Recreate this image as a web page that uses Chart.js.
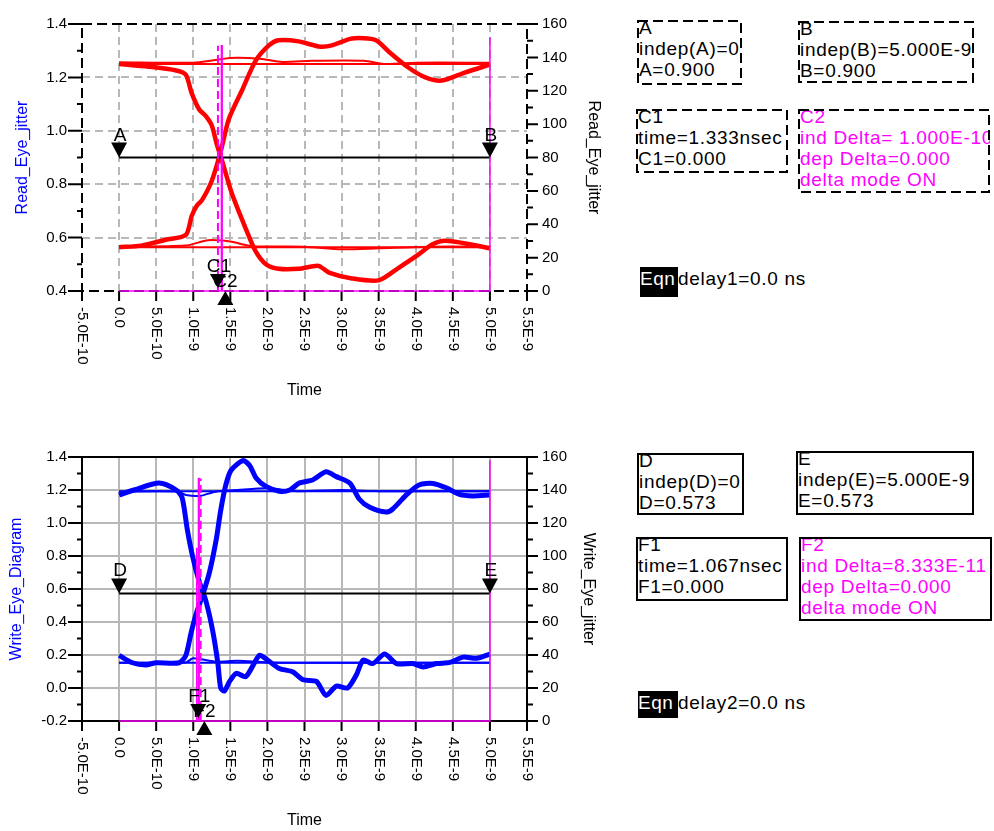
<!DOCTYPE html>
<html>
<head>
<meta charset="utf-8">
<script src="https://cdn.jsdelivr.net/npm/chart.js@4.4.0/dist/chart.umd.min.js"></script>
<style>
    body { margin: 0; background: #fff; font-family: "Liberation Sans", Arial, sans-serif; }
    #page { position: relative; width: 994px; height: 831px; overflow: hidden; }
    canvas { position: absolute; left: 0; }
    .box { position: absolute; overflow: hidden; }
    .box svg { position: absolute; left: 0; top: 0; }
    .box .txt { position: absolute; left: 2px; top: -3px; font-size: 19px; letter-spacing: 0.7px; line-height: 21px; white-space: nowrap; }
    .eqn { position: absolute; background: #000; color: #fff; font-size: 19px; line-height: 24px; letter-spacing: 0.5px; overflow: hidden; }
    .eqnText { position: absolute; font-size: 19px; line-height: 24px; letter-spacing: 0.7px; white-space: nowrap; }
</style>
</head>
<body>
<div id="page">
    <canvas id="read-eye-chart" width="620" height="410" style="top:0"></canvas>
    <canvas id="write-eye-chart" width="620" height="398" style="top:433px"></canvas>
</div>
<script>
'use strict';

// time axis, in ns (labels are the seconds the plot shows)
var timeTickValues = [-0.5, 0, 0.5, 1, 1.5, 2, 2.5, 3, 3.5, 4, 4.5, 5, 5.5];
var timeTickLabels = ['-5.0E-10', '0.0', '5.0E-10', '1.0E-9', '1.5E-9', '2.0E-9', '2.5E-9',
    '3.0E-9', '3.5E-9', '4.0E-9', '4.5E-9', '5.0E-9', '5.5E-9'];

// ---- Read eye (top) ----
var readRiseT = [0, 0.3, 0.63, 0.9, 0.98, 1.05, 1.12, 1.25, 1.37, 1.48, 1.66, 1.84, 2.02, 2.15, 2.42,
    2.69, 2.87, 3.14, 3.46, 3.63, 3.9, 4.13, 4.35, 4.67, 5.0];
var readRiseV = [0.564, 0.57, 0.592, 0.61, 0.682, 0.72, 0.741, 0.813, 0.922, 1.044, 1.153, 1.262, 1.32,
    1.339, 1.335, 1.316, 1.32, 1.346, 1.34, 1.298, 1.237, 1.2, 1.188, 1.219, 1.248];
var readFallT = [0, 0.4, 0.77, 0.9, 0.98, 1.08, 1.17, 1.25, 1.32, 1.39, 1.52, 1.71, 1.84, 1.98, 2.15,
    2.42, 2.69, 2.83, 3.14, 3.5, 3.77, 4.04, 4.22, 4.4, 4.75, 5.0];
var readFallV = [1.25, 1.24, 1.226, 1.21, 1.14, 1.08, 1.055, 1.02, 0.947, 0.886, 0.766, 0.632, 0.549,
    0.5, 0.483, 0.483, 0.494, 0.469, 0.447, 0.44, 0.487, 0.537, 0.574, 0.588, 0.574, 0.56];
var readHighT = [0, 1.0, 1.3, 1.5, 1.9, 2.2, 2.6, 3.3, 3.6, 4.0, 5.0];
var readHighV = [1.257, 1.255, 1.265, 1.273, 1.27, 1.258, 1.262, 1.262, 1.25, 1.255, 1.255];
var readHigh2T = [0, 5.0];
var readHigh2V = [1.25, 1.25];
var readLowT = [0, 0.9, 1.2, 1.5, 1.8, 2.5, 3.0, 3.5, 4.2, 5.0];
var readLowV = [0.566, 0.57, 0.59, 0.585, 0.568, 0.566, 0.556, 0.56, 0.566, 0.566];
var readLow2T = [0, 5.0];
var readLow2V = [0.564, 0.564];
var readJitterT = [0, 1.38, 1.38, 1.39, 1.39, 5.0, 5.0];
var readJitterV = [0, 0, 147, 147, 0, 0, 152];
var readMarkNames = ['A', 'B'];
var readMarkT = [0, 5.0];
var readMarkV = [0.9, 0.9];
var readCursorNames = ['C2', 'C1'];
var readCursorT = [1.433, 1.333];
var readCursorLineV = [0, 147];

// ---- Write eye (bottom) ----
var writeRiseT = [0, 0.18, 0.36, 0.5, 0.81, 0.9, 0.97, 1.04, 1.13, 1.22, 1.31, 1.37, 1.44, 1.51, 1.67,
    1.76, 1.85, 1.98, 2.16, 2.3, 2.43, 2.61, 2.79, 2.93, 3.11, 3.24, 3.38, 3.6, 3.69, 3.88, 4.05, 4.23,
    4.42, 4.59, 4.77, 5.0];
var writeRiseV = [0.198, 0.153, 0.14, 0.153, 0.153, 0.198, 0.333, 0.45, 0.568, 0.704, 0.9, 1.076, 1.232,
    1.32, 1.378, 1.349, 1.271, 1.222, 1.193, 1.2, 1.242, 1.261, 1.31, 1.281, 1.242, 1.144, 1.095, 1.066,
    1.085, 1.173, 1.232, 1.24, 1.212, 1.173, 1.164, 1.17];
var writeFallT = [0, 0.2, 0.54, 0.77, 0.85, 0.92, 0.99, 1.08, 1.17, 1.26, 1.33, 1.37, 1.42, 1.49, 1.58,
    1.71, 1.89, 1.98, 2.16, 2.34, 2.48, 2.66, 2.79, 2.93, 3.08, 3.2, 3.29, 3.42, 3.58, 3.74, 3.96, 4.1,
    4.28, 4.46, 4.64, 4.82, 5.0];
var writeFallV = [1.17, 1.2, 1.242, 1.2, 1.154, 0.96, 0.8, 0.645, 0.528, 0.352, 0.157, 0.0, -0.018, 0.04,
    0.089, 0.069, 0.198, 0.177, 0.118, 0.099, 0.05, 0.04, -0.045, 0.011, 0.0, 0.08, 0.169, 0.148, 0.206,
    0.148, 0.148, 0.128, 0.148, 0.155, 0.187, 0.18, 0.206];
var writeHighT = [0, 0.8, 0.9, 1.1, 1.3, 1.6, 2.0, 2.4, 3.0, 3.5, 4.0, 4.5, 5.0];
var writeHighV = [1.19, 1.19, 1.17, 1.165, 1.19, 1.2, 1.21, 1.193, 1.2, 1.193, 1.193, 1.193, 1.193];
var writeHigh2T = [0, 5.0];
var writeHigh2V = [1.193, 1.193];
var writeLowT = [0, 0.3, 0.9, 1.0, 1.3, 1.6, 2.0, 3.0, 4.0, 5.0];
var writeLowV = [0.153, 0.153, 0.155, 0.18, 0.16, 0.165, 0.155, 0.153, 0.153, 0.153];
var writeLow2T = [0, 5.0];
var writeLow2V = [0.153, 0.153];
var writeJitterT = [0, 1.04, 1.04, 1.05, 1.05, 1.07, 1.07, 1.08, 1.08, 5.0, 5.0];
var writeJitterV = [0, 0, 105, 105, 0, 0, 147, 147, 0, 0, 158];
var writeMarkNames = ['D', 'E'];
var writeMarkT = [0, 5.0];
var writeMarkV = [0.573, 0.573];
var writeCursorNames = ['F2', 'F1'];
var writeCursorT = [1.15, 1.067];
var writeCursorLineV = [0, 147];

var red = '#ff0000';
var blue = '#0000ff';
var magenta = '#ff00ff';

function pts(t, v) {
    return t.map(function (x, i) {
        return { x: x, y: v[i] };
    });
}

function trace(t, v, color, width) {
    return {
        data: pts(t, v),
        borderColor: color,
        borderWidth: width,
        pointRadius: 0,
        tension: 0.25,
        fill: false,
        yAxisID: 'y',
    };
}

function jitter(t, v, dash, width) {
    return {
        data: pts(t, v),
        borderColor: magenta,
        borderWidth: width || 2,
        borderDash: dash || [],
        pointRadius: 0,
        tension: 0,
        fill: false,
        clip: false,
        yAxisID: 'y1',
    };
}

// frame, tick marks, rotated time labels and the marker triangles
var eyeDecor = {
    id: 'eyeDecor',
    beforeDatasetsDraw: function (chart, args, opts) {
        var ctx = chart.ctx;
        var a = chart.chartArea;
        var y = chart.scales.y;
        var y1 = chart.scales.y1;
        var x = chart.scales.x;
        var i, p;
        ctx.save();
        ctx.strokeStyle = '#000';
        ctx.lineWidth = 2;
        ctx.setLineDash(opts.dashed ? [10, 5] : []);
        ctx.strokeRect(a.left, a.top, a.right - a.left, a.bottom - a.top);
        ctx.setLineDash([]);
        ctx.beginPath();
        var nL = Math.round((y.max - y.min) / 0.1);
        for (i = 0; i <= nL; i++) {
            p = y.getPixelForValue(y.min + i * 0.1);
            ctx.moveTo(a.left - (i % 2 === 0 ? 14 : 5), p);
            ctx.lineTo(a.left, p);
        }
        for (i = 0; i <= 16; i++) {
            p = y1.getPixelForValue(i * 10);
            ctx.moveTo(a.right, p);
            ctx.lineTo(a.right + (i % 2 === 0 ? 11 : 6), p);
        }
        timeTickValues.forEach(function (v) {
            p = x.getPixelForValue(v);
            ctx.moveTo(p, a.bottom);
            ctx.lineTo(p, a.bottom + 10);
        });
        ctx.stroke();
        ctx.fillStyle = '#000';
        ctx.font = '15px "Liberation Sans", Arial, sans-serif';
        ctx.textAlign = 'left';
        ctx.textBaseline = 'middle';
        timeTickValues.forEach(function (v, k) {
            ctx.save();
            ctx.translate(x.getPixelForValue(v), a.bottom + 16);
            ctx.rotate(Math.PI / 2);
            ctx.fillText(timeTickLabels[k], 0, 0);
            ctx.restore();
        });
        ctx.restore();
    },
    afterDraw: function (chart, args, opts) {
        var ctx = chart.ctx;
        var a = chart.chartArea;
        var x = chart.scales.x;
        var y = chart.scales.y;
        ctx.save();
        ctx.fillStyle = '#000';
        ctx.font = '19px "Liberation Sans", Arial, sans-serif';
        ctx.textAlign = 'center';
        ctx.textBaseline = 'alphabetic';
        opts.markNames.forEach(function (name, k) {
            var px = x.getPixelForValue(opts.markT[k]);
            var py = y.getPixelForValue(opts.markV[k]);
            ctx.beginPath();
            ctx.moveTo(px - 8, py - 15);
            ctx.lineTo(px + 8, py - 15);
            ctx.lineTo(px, py);
            ctx.closePath();
            ctx.fill();
            ctx.fillText(name, px + 1, py - 17);
        });
        opts.cursorNames.forEach(function (name, k) {
            var px = x.getPixelForValue(opts.cursorT[k]);
            var b = a.bottom;
            ctx.beginPath();
            if (k === 0) {
                ctx.fillText(name, px, b - 4);
                ctx.moveTo(px, b);
                ctx.lineTo(px + 8, b + 14);
                ctx.lineTo(px - 8, b + 14);
            } else {
                ctx.fillText(name, px + 1, b - 19);
                ctx.moveTo(px - 8, b - 17);
                ctx.lineTo(px + 8, b - 17);
                ctx.lineTo(px, b - 3);
            }
            ctx.closePath();
            ctx.fill();
        });
        ctx.restore();
    },
};

Chart.defaults.font.family = '"Liberation Sans", Arial, sans-serif';
Chart.defaults.color = '#000';

function gridColor(gray) {
    return function (c) {
        var n = c.scale.ticks.length;
        return c.index === 0 || c.index === n - 1 ? 'rgba(0,0,0,0)' : gray;
    };
}

function makeEyeChart(canvasId, o) {
    return new Chart(document.getElementById(canvasId), {
        type: 'line',
        data: { datasets: o.datasets },
        plugins: [eyeDecor],
        options: {
            responsive: false,
            animation: false,
            devicePixelRatio: 1,
            layout: { padding: { top: 15, left: 0, right: 0, bottom: 0 } },
            plugins: {
                legend: { display: false },
                tooltip: { enabled: false },
                eyeDecor: o.decor,
            },
            scales: {
                x: {
                    type: 'linear',
                    min: -0.5,
                    max: 5.5,
                    afterBuildTicks: function (s) {
                        s.ticks = timeTickValues.map(function (v) { return { value: v }; });
                    },
                    afterFit: function (s) { s.height = o.xHeight; },
                    ticks: { display: false },
                    grid: { drawTicks: false, color: gridColor(o.gray), lineWidth: 2 },
                    border: { display: false, dash: o.gridDash },
                    title: {
                        display: true,
                        text: 'Time',
                        font: { size: 16 },
                        padding: { top: 0, bottom: o.timePad },
                    },
                },
                y: {
                    position: 'left',
                    min: o.yMin,
                    max: 1.4,
                    afterFit: function (s) { s.width = 82; },
                    ticks: {
                        stepSize: 0.2,
                        padding: 15,
                        font: { size: 15 },
                        callback: function (v) {
                            return (Math.abs(v) < 1e-9 ? 0 : v).toFixed(1);
                        },
                    },
                    grid: { drawTicks: false, color: gridColor(o.gray), lineWidth: 2 },
                    border: { display: false, dash: o.gridDash },
                    title: {
                        display: true,
                        text: o.leftTitle,
                        color: blue,
                        font: { size: 16 },
                        padding: { top: o.leftPad, bottom: 0 },
                    },
                },
                y1: {
                    position: 'right',
                    min: 0,
                    max: 160,
                    afterFit: function (s) { s.width = 93; },
                    ticks: { stepSize: 20, padding: 15, font: { size: 15 } },
                    grid: { display: false, drawTicks: false },
                    border: { display: false },
                    title: {
                        display: true,
                        text: o.rightTitle,
                        font: { size: 16 },
                        padding: { top: o.rightPad, bottom: 0 },
                    },
                },
            },
        },
    });
}

makeEyeChart('read-eye-chart', {
    yMin: 0.4,
    xHeight: 119,
    timePad: 10,
    leftPad: 13,
    rightPad: 17,
    gray: '#b8b8b8',
    gridDash: [8, 5],
    leftTitle: 'Read_Eye_jitter',
    rightTitle: 'Read_Eye_jitter',
    decor: {
        dashed: true,
        markNames: readMarkNames, markT: readMarkT, markV: readMarkV,
        cursorNames: readCursorNames, cursorT: readCursorT,
    },
    datasets: [
        jitter(readJitterT, readJitterV, [], 1.5),
        jitter([readCursorT[1], readCursorT[1]], readCursorLineV, [8, 4]),
        trace(readMarkT, readMarkV, '#000', 2),
        trace(readRiseT, readRiseV, red, 4.5),
        trace(readFallT, readFallV, red, 4.5),
        trace(readHighT, readHighV, red, 2),
        trace(readHigh2T, readHigh2V, red, 2),
        trace(readLowT, readLowV, red, 2),
        trace(readLow2T, readLow2V, red, 2),
    ],
});

makeEyeChart('write-eye-chart', {
    yMin: -0.2,
    xHeight: 110,
    timePad: 1,
    leftPad: 7,
    rightPad: 22,
    gray: '#b8b8b8',
    gridDash: [],
    leftTitle: 'Write_Eye_Diagram',
    rightTitle: 'Write_Eye_jitter',
    decor: {
        dashed: false,
        markNames: writeMarkNames, markT: writeMarkT, markV: writeMarkV,
        cursorNames: writeCursorNames, cursorT: writeCursorT,
    },
    datasets: [
        jitter(writeJitterT, writeJitterV, [], 1.5),
        jitter([1.10, 1.10], writeCursorLineV, [8, 4]),
        trace(writeMarkT, writeMarkV, '#000', 2),
        trace(writeRiseT, writeRiseV, blue, 5),
        trace(writeFallT, writeFallV, blue, 5),
        trace(writeHighT, writeHighV, blue, 2),
        trace(writeHigh2T, writeHigh2V, blue, 2),
        trace(writeLowT, writeLowV, blue, 2),
        trace(writeLow2T, writeLow2V, blue, 2),
    ],
});

// marker readout boxes
var boxes = [
    { x: 637, y: 20, w: 105, h: 65, dashed: true, color: '#000', lines: ['A', 'indep(A)=0', 'A=0.900'] },
    { x: 798, y: 21, w: 176, h: 62, dashed: true, color: '#000', lines: ['B', 'indep(B)=5.000E-9', 'B=0.900'] },
    { x: 636, y: 109, w: 152, h: 64, dashed: true, color: '#000', lines: ['C1', 'time=1.333nsec', 'C1=0.000'] },
    { x: 798, y: 109, w: 192, h: 84, dashed: true, color: magenta,
        lines: ['C2', 'ind Delta= 1.000E-10', 'dep Delta=0.000', 'delta mode ON'] },
    { x: 637, y: 453, w: 107, h: 62, dashed: false, color: '#000', lines: ['D', 'indep(D)=0', 'D=0.573'] },
    { x: 796, y: 451, w: 178, h: 64, dashed: false, color: '#000', lines: ['E', 'indep(E)=5.000E-9', 'E=0.573'] },
    { x: 636, y: 537, w: 152, h: 64, dashed: false, color: '#000', lines: ['F1', 'time=1.067nsec', 'F1=0.000'] },
    { x: 799, y: 537, w: 193, h: 84, dashed: false, color: magenta,
        lines: ['F2', 'ind Delta=8.333E-11', 'dep Delta=0.000', 'delta mode ON'] },
];
var eqns = [
    { x: 640, y: 267, w: 38, h: 30, text: 'delay1=0.0 ns' },
    { x: 638, y: 691, w: 40, h: 27, text: 'delay2=0.0 ns' },
];

var page = document.getElementById('page');
boxes.forEach(function (b) {
    var d = document.createElement('div');
    d.className = 'box';
    d.style.cssText = 'left:' + b.x + 'px;top:' + b.y + 'px;width:' + b.w + 'px;height:' + b.h + 'px';
    d.innerHTML = '<div class="txt" style="color:' + b.color + '">' + b.lines.join('<br>') + '</div>' +
        '<svg width="' + b.w + '" height="' + b.h + '"><rect x="1" y="1" width="' + (b.w - 2) +
        '" height="' + (b.h - 2) + '" fill="none" stroke="#000" stroke-width="2"' +
        (b.dashed ? ' stroke-dasharray="10 5"' : '') + '/></svg>';
    page.appendChild(d);
});
eqns.forEach(function (e) {
    var k = document.createElement('div');
    k.className = 'eqn';
    k.style.cssText = 'left:' + e.x + 'px;top:' + e.y + 'px;width:' + e.w + 'px;height:' + e.h + 'px';
    k.textContent = 'Eqn';
    page.appendChild(k);
    var t = document.createElement('div');
    t.className = 'eqnText';
    t.style.cssText = 'left:' + (e.x + e.w) + 'px;top:' + e.y + 'px';
    t.textContent = e.text;
    page.appendChild(t);
});
</script>
</body>
</html>
